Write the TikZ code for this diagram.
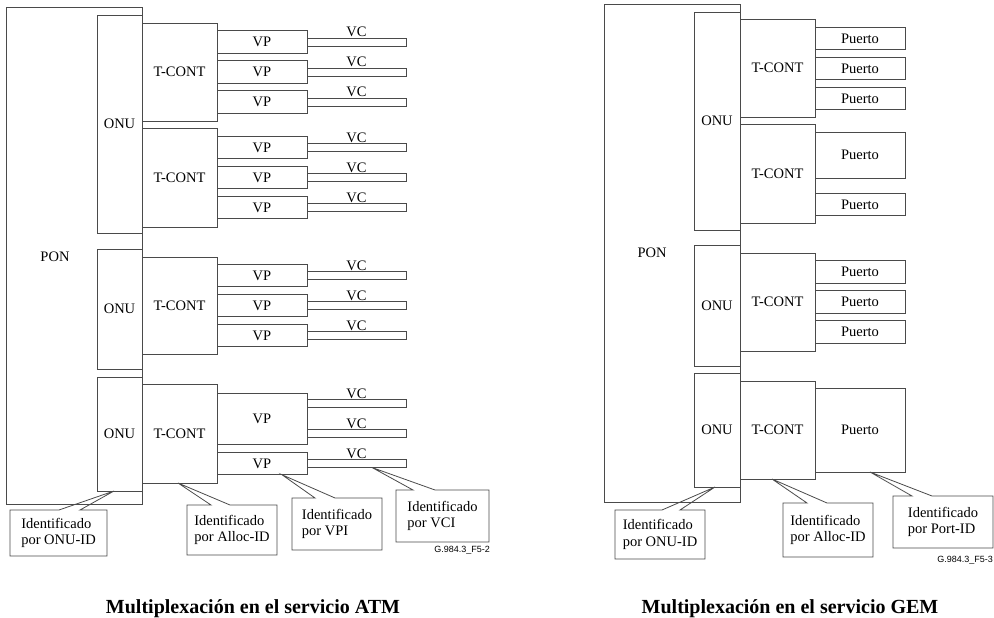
\documentclass[tikz,border=0pt]{standalone}
\usepackage{fontspec}
\setmainfont{Liberation Serif}
\newfontfamily\codefont{Liberation Sans}
\usetikzlibrary{positioning,calc}
\definecolor{Edge}{HTML}{4A4A4A}

\tikzset{
  blk/.style={draw=Edge,line width=0.8pt,inner sep=0pt,outer sep=0pt,font=\fontsize{14.5}{17}\selectfont},
  vpbox/.style={blk,minimum width=90,minimum height=22.5},
  vcbar/.style={draw=Edge,line width=0.8pt,inner sep=0pt,outer sep=0pt,minimum width=99,minimum height=8},
  tag/.style={inner sep=0pt,font=\fontsize{14.5}{17}\selectfont},
  note/.style={inner sep=0pt,outer sep=0pt,align=left,font=\fontsize{14.5}{16.5}\selectfont},
  bubble/.style={draw=Edge,line width=0.8pt,line join=miter},
  figcode/.style={inner sep=0pt,font=\codefont\fontsize{9}{10}\selectfont},
  caption/.style={inner sep=0pt,font=\fontsize{20}{24}\selectfont\bfseries}
}

\begin{document}
\begin{tikzpicture}[x=1pt,y=-1pt]
  \useasboundingbox (0,0) rectangle (994,618);

  % ATM side
  \node[blk,minimum width=136,minimum height=497] (ponA) at (74,255.5) {};
  \node[tag] (ponAl) at (55,257) {PON};
  \node[blk,minimum width=45,minimum height=218] (onuA1) at (119.5,124) {ONU};
  \node[blk,minimum width=45,minimum height=120] (onuA2) at (119.5,309) {ONU};
  \node[blk,minimum width=45,minimum height=114] (onuA3) at (119.5,434) {ONU};
  \node[blk,minimum width=75,minimum height=98] (tcA1) at (179.5,72) {T-CONT};
  \node[blk,minimum width=75,minimum height=99] (tcA2) at (179.5,177.5) {T-CONT};
  \node[blk,minimum width=75,minimum height=97] (tcA3) at (179.5,305.5) {T-CONT};
  \node[blk,minimum width=75,minimum height=99] (tcA4) at (179.5,433.5) {T-CONT};
  \foreach \i/\y in {1/42,2/72,3/102,4/147.5,5/177.5,6/207.5,7/275.5,8/305.5,9/335.5,11/463.5}
    \node[vpbox] (vpA\i) at (262,\y) {VP};
  \node[blk,minimum width=90,minimum height=51] (vpA10) at (262,418.5) {VP};
  \foreach \i/\y in {1/42,2/72,3/102,4/147.5,5/177.5,6/207.5,7/275.5,8/305.5,9/335.5,10/403.5,11/433.5,12/463.5}{
    \node[vcbar] (vcA\i) at (356.5,\y) {};
    \node[tag,above=1pt of vcA\i] (vclA\i) {VC};
  }

  % GEM side
  \node[blk,minimum width=136,minimum height=498] (ponB) at (672,253) {};
  \node[tag] (ponBl) at (652,253) {PON};
  \node[blk,minimum width=46,minimum height=218] (onuB1) at (717,121) {ONU};
  \node[blk,minimum width=46,minimum height=121] (onuB2) at (717,305.5) {ONU};
  \node[blk,minimum width=46,minimum height=114] (onuB3) at (717,430) {ONU};
  \node[blk,minimum width=75,minimum height=98] (tcB1) at (777.5,68) {T-CONT};
  \node[blk,minimum width=75,minimum height=99] (tcB2) at (777.5,173.5) {T-CONT};
  \node[blk,minimum width=75,minimum height=98] (tcB3) at (777.5,302) {T-CONT};
  \node[blk,minimum width=75,minimum height=98] (tcB4) at (777.5,430) {T-CONT};
  \foreach \i/\y in {1/38.5,2/68.5,3/98.5,5/204.5,6/272,7/302,8/332}
    \node[vpbox] (ptB\i) at (860,\y) {Puerto};
  \node[blk,minimum width=90,minimum height=46] (ptB4) at (860,155) {Puerto};
  \node[blk,minimum width=90,minimum height=84] (ptB9) at (860,430) {Puerto};

  % callouts
  \node[note,minimum width=97,minimum height=46] (cA1) at (58.5,533) {Identificado\\por ONU-ID};
  \node[note,minimum width=90,minimum height=50] (cA2) at (232,530) {Identificado\\por Alloc-ID};
  \node[note,minimum width=90,minimum height=52] (cA3) at (337,524) {Identificado\\por VPI};
  \node[note,minimum width=93,minimum height=52] (cA4) at (442.5,516) {Identificado\\por VCI};
  \node[note,minimum width=90,minimum height=49] (cB1) at (660,534.5) {Identificado\\por ONU-ID};
  \node[note,minimum width=90,minimum height=54] (cB2) at (828,530) {Identificado\\por Alloc-ID};
  \node[note,minimum width=100,minimum height=52] (cB3) at (943,522) {Identificado\\por Port-ID};
  \coordinate (tA1) at ($(onuA3.south west)+(17,0)$);
  \coordinate (tA2) at ($(tcA4.south west)+(36,0)$);
  \coordinate (tA3) at ($(vpA11.south west)+(65,0)$);
  \coordinate (tA4) at ($(vcA12.south west)+(65,0)$);
  \coordinate (tB1) at ($(onuB3.south west)+(21,0)$);
  \coordinate (tB2) at ($(tcB4.south west)+(32,0)$);
  \coordinate (tB3) at ($(ptB9.south west)+(55,0)$);
  \draw[bubble] (cA1.north west) -- ($(cA1.north west)+(49,0)$) -- (tA1) -- ($(cA1.north west)+(70,0)$)
    -- (cA1.north east) -- (cA1.south east) -- (cA1.south west) -- cycle;
  \draw[bubble] (cA2.north west) -- ($(cA2.north west)+(24,0)$) -- (tA2) -- ($(cA2.north west)+(43,0)$)
    -- (cA2.north east) -- (cA2.south east) -- (cA2.south west) -- cycle;
  \draw[bubble] (cA3.north west) -- ($(cA3.north west)+(23,0)$) -- (tA3) -- ($(cA3.north west)+(43,0)$)
    -- (cA3.north east) -- (cA3.south east) -- (cA3.south west) -- cycle;
  \draw[bubble] (cA4.north west) -- ($(cA4.north west)+(17,0)$) -- (tA4) -- ($(cA4.north west)+(39,0)$)
    -- (cA4.north east) -- (cA4.south east) -- (cA4.south west) -- cycle;
  \draw[bubble] (cB1.north west) -- ($(cB1.north west)+(47,0)$) -- (tB1) -- ($(cB1.north west)+(65,0)$)
    -- (cB1.north east) -- (cB1.south east) -- (cB1.south west) -- cycle;
  \draw[bubble] (cB2.north west) -- ($(cB2.north west)+(24,0)$) -- (tB2) -- ($(cB2.north west)+(44,0)$)
    -- (cB2.north east) -- (cB2.south east) -- (cB2.south west) -- cycle;
  \draw[bubble] (cB3.north west) -- ($(cB3.north west)+(19,0)$) -- (tB3) -- ($(cB3.north west)+(39,0)$)
    -- (cB3.north east) -- (cB3.south east) -- (cB3.south west) -- cycle;

  % figure codes and captions
  \node[figcode,anchor=east] (codeA) at (490,550) {G.984.3\_F5-2};
  \node[figcode,anchor=east] (codeB) at (993,560) {G.984.3\_F5-3};
  \node[caption,anchor=base] (capA) at (253,613) {Multiplexación en el servicio ATM};
  \node[caption,anchor=base] (capB) at (790,613) {Multiplexación en el servicio GEM};
\end{tikzpicture}
\end{document}
